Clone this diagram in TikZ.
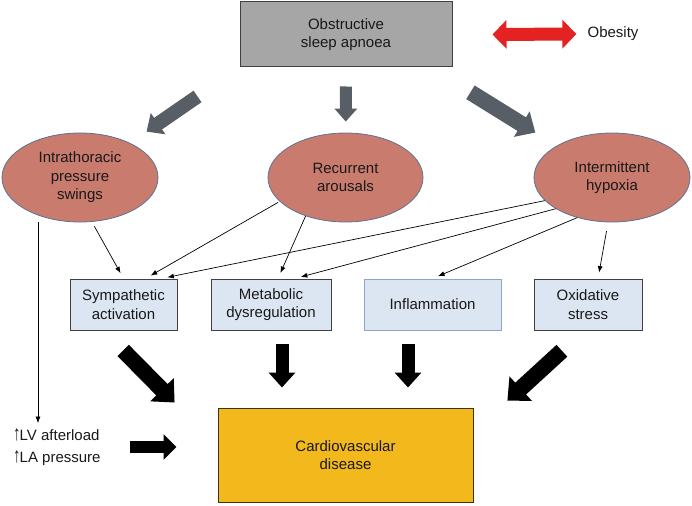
\documentclass[tikz,border=0pt]{standalone}
\usepackage{fontspec}
\usepackage{graphicx}
\setmainfont{Liberation Sans}
\usetikzlibrary{arrows.meta,shapes.geometric}

\definecolor{osagray}{HTML}{A6A6A6}
\definecolor{ellfill}{HTML}{C97B6E}
\definecolor{ellline}{HTML}{5E7291}
\definecolor{boxfill}{HTML}{DCE6F2}
\definecolor{infline}{HTML}{8EA6C6}
\definecolor{cvdfill}{HTML}{F2B81C}
\definecolor{cvdline}{HTML}{3B3208}
\definecolor{arrgray}{HTML}{575E66}
\definecolor{linkred}{HTML}{E32221}

\newcommand{\upmark}{\scalebox{1}[1.4]{↑}\kern-1pt}

\begin{document}
\begin{tikzpicture}[x=1pt, y=-1pt,
    every node/.style={font=\fontsize{15}{18.5}\selectfont, align=center, inner sep=0pt, text=black!90},
    cause/.style={ellipse, draw=ellline, fill=ellfill, line width=0.8pt, minimum width=156pt, minimum height=89pt},
    mech/.style={rectangle, draw=black!75, fill=boxfill, line width=1pt, minimum height=51pt},
    pointer/.style={-{Latex[length=6.5pt,width=5pt]}, line width=0.7pt, shorten >=6pt},
    blockarrow/.style n args={3}{line width=#1, -{Triangle[width=#2,length=#3]}}]
    \useasboundingbox (0,0) rectangle (692,505);

    % top
    \node[draw=black!75, fill=osagray, line width=1pt, minimum width=212pt, minimum height=65pt] (osa) at (346,34.5) {Obstructive\\sleep apnoea};
    \node (obesity) at (613,34) {Obesity};
    \draw[linkred, line width=13pt, {Triangle[width=28pt,length=14pt]}-{Triangle[width=28pt,length=14pt]}] ([xshift=40pt]osa.east) -- ([xshift=-11pt]obesity.west);

    % causes
    \node[cause] (intra) at (80,177.5) {Intrathoracic\\pressure\\swings};
    \node[cause, minimum width=155pt] (arousal) at (345.5,177.5) {Recurrent\\arousals};
    \node[cause] (hypoxia) at (612,177.5) {Intermittent\\hypoxia};

    \draw[arrgray, blockarrow={14pt}{25pt}{14pt}, shorten <=51pt, shorten >=20pt] (osa.south west) -- (intra);
    \draw[arrgray, blockarrow={12pt}{22pt}{13pt}, shorten <=19pt, shorten >=11pt] (osa.south) -- (arousal);
    \draw[arrgray, blockarrow={16pt}{29pt}{16pt}, shorten <=47pt, shorten >=25pt] ([xshift=-22pt]osa.south east) -- (hypoxia.north west);

    % mechanisms
    \node[mech, minimum width=107pt] (symp) at (123.5,304.5) {Sympathetic\\activation};
    \node[mech, minimum width=120pt] (metab) at (271,304.5) {Metabolic\\dysregulation};
    \node[mech, minimum width=137pt, draw=infline] (inflam) at (432.5,304.5) {Inflammation};
    \node[mech, minimum width=108pt] (oxid) at (588,304.5) {Oxidative\\stress};

    \draw[pointer, shorten <=5pt] (intra.-75) -- (symp.north);
    \draw[pointer, shorten <=2pt] (arousal.200) -- ([xshift=22pt]symp.north);
    \draw[pointer] (arousal.224) -- ([xshift=7pt]metab.north);
    \draw[pointer] (hypoxia.199) -- ([xshift=38pt]symp.north);
    \draw[pointer] (hypoxia.209) -- ([xshift=24pt]metab.north);
    \draw[pointer] (hypoxia.229) -- (inflam.north);
    \draw[pointer, shorten <=9pt] (hypoxia.265) -- ([xshift=10pt]oxid.north);

    % outcome
    \node[draw=cvdline, fill=cvdfill, line width=1pt, minimum width=255pt, minimum height=94pt] (cvd) at (345.5,455) {Cardiovascular\\disease};
    \node[anchor=west, align=left] (lv) at (13,447) {\upmark LV afterload\\[4pt]\upmark LA pressure};

    \draw[pointer, shorten >=5pt] ([xshift=-42pt]intra.south) -- ([xshift=-42pt]intra.south |- lv.north);

    \draw[blockarrow={16pt}{32pt}{18pt}, shorten <=28pt, shorten >=7pt] ([xshift=-20pt]symp.south) -- ([xshift=-38pt]cvd.north west);
    \draw[blockarrow={13pt}{26pt}{15pt}, shorten <=13pt, shorten >=20pt] ([xshift=11pt]metab.south) -- ([xshift=11pt]metab.south |- cvd.north);
    \draw[blockarrow={13pt}{26pt}{15pt}, shorten <=13pt, shorten >=20pt] ([xshift=-24.5pt]inflam.south) -- ([xshift=-24.5pt]inflam.south |- cvd.north);
    \draw[blockarrow={16pt}{32pt}{18pt}, shorten <=30pt, shorten >=10pt] ([xshift=-4pt]oxid.south) -- ([xshift=26.5pt]cvd.north east);
    \draw[blockarrow={12pt}{25pt}{13pt}, shorten <=29pt, shorten >=41pt] (lv.east) -- (lv.east -| cvd.west);
\end{tikzpicture}
\end{document}
